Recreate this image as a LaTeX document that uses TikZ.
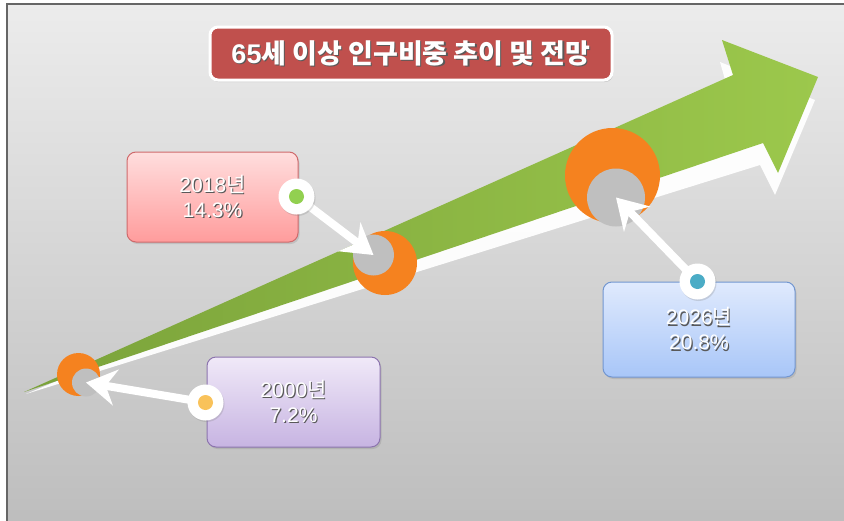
\documentclass[tikz,border=0pt]{standalone}
\usepackage{fontspec}
\setmainfont{Noto Sans CJK KR}
\newfontfamily\lat{Liberation Sans}
\usetikzlibrary{arrows.meta,shadows}
\definecolor{bgtop}{HTML}{ECECEC}
\definecolor{bgbot}{HTML}{BDBDBD}
\definecolor{frame}{HTML}{666666}
\definecolor{grL}{HTML}{7AA23A}
\definecolor{grR}{HTML}{9CC84C}
\definecolor{titleRed}{HTML}{C0504D}
\definecolor{orng}{HTML}{F5821F}
\definecolor{gry}{HTML}{BFBFBF}
\definecolor{pinkT}{HTML}{FFDEDE}
\definecolor{pinkB}{HTML}{FF9C9C}
\definecolor{pinkD}{HTML}{CF6A6C}
\definecolor{blueT}{HTML}{E0EAFD}
\definecolor{blueB}{HTML}{A8C6F8}
\definecolor{blueD}{HTML}{7296D0}
\definecolor{purT}{HTML}{F0E9F8}
\definecolor{purB}{HTML}{C7B4E2}
\definecolor{purD}{HTML}{8C74AE}
\definecolor{dotG}{HTML}{92D050}
\definecolor{dotB}{HTML}{4BACC6}
\definecolor{dotY}{HTML}{F9C25A}
\newcommand\shtxt[1]{\leavevmode\rlap{\kern1.2pt\raisebox{-1.2pt}{\textcolor{black!65}{#1}}}#1}
\tikzset{
  valbox/.style={rounded corners=9pt, line width=1pt, minimum width=#1, text=white,
     font=\fontsize{21}{25}\selectfont, align=center,
     drop shadow={shadow xshift=1.5pt, shadow yshift=-2pt, opacity=0.25}},
  disc/.style={circle, inner sep=0pt, minimum size=#1},
  pin/.style={circle, inner sep=0pt, minimum size=36pt, fill=white,
     drop shadow={shadow xshift=1pt, shadow yshift=-1.5pt, opacity=0.25}},
  pindot/.style={circle, inner sep=0pt, minimum size=15pt, fill=#1},
  callout/.style={draw=white, line width=8pt,
     -{Stealth[length=30pt, width=36pt, inset=10pt]}},
}
\begin{document}
\begin{tikzpicture}[x=1pt, y=-1pt]
\useasboundingbox (0,0) rectangle (844,520);
\clip (0,0) rectangle (844,520);
\fill[white] (0,0) rectangle (844,520);
% background and frame
\shade[top color=bgtop, bottom color=bgbot] (6.5,3.5) rectangle (850,526);
\draw[frame, line width=2pt] (6.5,526) -- (6.5,3.5) -- (850,3.5);
% green arrow shadow
\fill[white, opacity=0.95] (26,394) -- (730,97) -- (720,62) -- (815,100) -- (775,195) -- (760,165) -- cycle;
% green arrow
\shade[left color=grL, right color=grR] (24,392) -- (733,75) -- (722,40) -- (818,77) -- (778,173) -- (763,143) -- cycle;
% title
\node[fill=titleRed, draw=white, line width=3pt, rounded corners=8pt,
      minimum width=402pt, minimum height=53pt, text=white,
      font=\fontsize{27}{30}\selectfont\bfseries,
      drop shadow={shadow xshift=1pt, shadow yshift=-2pt, opacity=0.3}]
  (title) at (411,53.5) {\shtxt{{\lat 65}세 이상 인구비중 추이 및 전망}};
% value boxes
\node[valbox=171pt, minimum height=90pt, draw=pinkD, top color=pinkT, bottom color=pinkB]
  (b2018) at (212.5,197) {\shtxt{{\lat 2018}년}\\\shtxt{\lat 14.3\%}};
\node[valbox=192pt, minimum height=95pt, draw=blueD, top color=blueT, bottom color=blueB]
  (b2026) at (699,329.5) {\shtxt{{\lat 2026}년}\\\shtxt{\lat 20.8\%}};
\node[valbox=173pt, minimum height=90pt, draw=purD, top color=purT, bottom color=purB]
  (b2000) at (293.5,402) {\shtxt{{\lat 2000}년}\\\shtxt{\lat 7.2\%}};
% markers on the arrow
\node[disc=43pt, fill=orng] (o2000) at (78.5,374.5) {};
\node[disc=28pt, fill=gry] (g2000) at (86,382.5) {};
\node[disc=64pt, fill=orng] (o2018) at (385,263) {};
\node[disc=41pt, fill=gry] (g2018) at (373.5,255) {};
\node[disc=95pt, fill=orng] (o2026) at (612.5,175.5) {};
\node[disc=58pt, fill=gry] (g2026) at (616,197.5) {};
% pins
\coordinate (p2018c) at (296.5,196.5);
\coordinate (p2026c) at (697.5,281.5);
\coordinate (p2000c) at (205.5,402.5);
\draw[callout] (p2018c) -- (g2018.center);
\draw[callout] (p2026c) -- (g2026.center);
\draw[callout] (p2000c) -- (g2000.center);
\node[pin] (w2018) at (p2018c) {};
\node[pin] (w2026) at (p2026c) {};
\node[pin] (w2000) at (p2000c) {};
\node[pindot=dotG] (d2018) at (w2018) {};
\node[pindot=dotB] (d2026) at (w2026) {};
\node[pindot=dotY] (d2000) at (w2000) {};
\end{tikzpicture}
\end{document}
